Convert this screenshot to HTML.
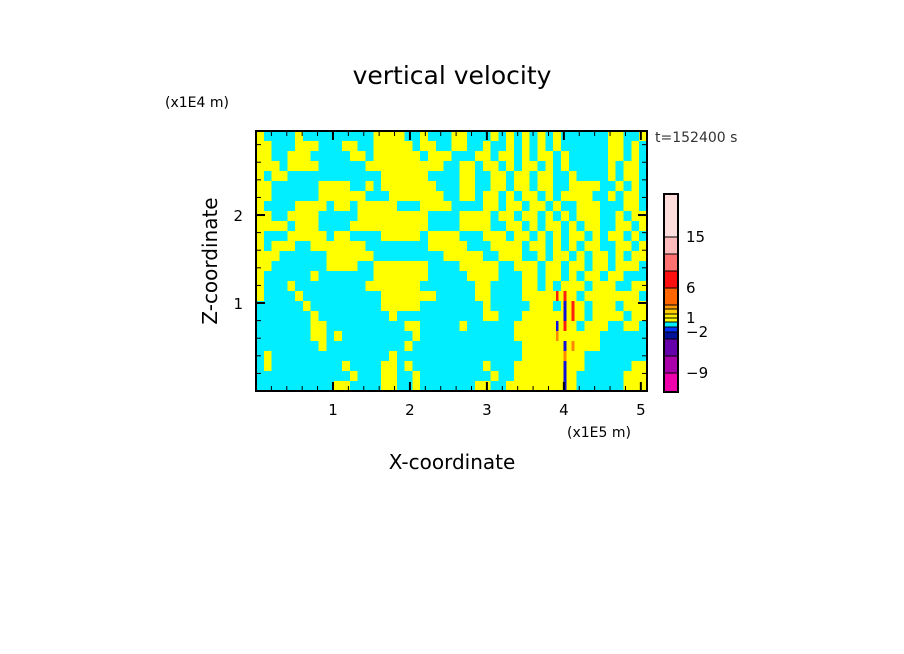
<!DOCTYPE html>
<html><head><meta charset="utf-8"><style>
body{margin:0;background:#fff;width:904px;height:654px;overflow:hidden}
svg{display:block;font-family:"DejaVu Sans","Liberation Sans",sans-serif}
</style></head><body>
<svg id="chart" width="904" height="654" viewBox="0 0 904 654">
<text x="452" y="84" font-size="25" text-anchor="middle">vertical velocity</text>
<text x="165" y="107" font-size="14">(x1E4 m)</text>
<text x="655" y="142" font-size="14" fill="#333">t=152400 s</text>
<text x="0" y="0" font-size="20" text-anchor="middle" transform="translate(217,261) rotate(-90)">Z-coordinate</text>
<text x="452" y="469" font-size="20" text-anchor="middle">X-coordinate</text>
<text x="567" y="437" font-size="14">(x1E5 m)</text>
<g id="cells" shape-rendering="crispEdges"></g>
<g id="axes"></g>
<g id="cbar"></g>
</svg>
<script>
const gridRows = [
"y....y.........yyyy..y...yy...y.y.y.y.y......yy..y",
"yy...yyy...yy..yyyyy.yy..yy..y..y.y.y.y......yy.y.",
"yy..yyy.....yy.yyyyyy.yyy...yy.yy.y.yy.y.....yy.y.",
"yyy.yyyy......yyyyyyyyyy..yy.yy.y.yy.y.y.....y.yy.",
"y.yy............yyyyyy....yy..yy.yy.yy..y....y.yy.",
"yy......yyyy..y.yyyyyyy...yy..yy.yy.yy..yyyy..y.y.",
"yy......yyyyyy...yyyyyyy..yy.yy.y.yy.y.yyyy..y.yy.",
"y....yyyy.yy.yyyyy...yyyy....yy.yy.yy.y..yyy...yy.",
"yy..yyyy.....yyyyyyyyy....yyyy.yy.yy.y.y.yyy..y.yy",
"yyyy.yyy....yyyyyyyyyy....yyyy..yy.y.yy.y.yy..yy.y",
"y...yyyyy.yy....yyyyy.yyyy...yyy.yy.y.y.yy.y.yy.y.",
"y.yyy..yyyyyyy........yyyyy...yyyy.yy.y.y.yy..yy.y",
"yyy......yyyyyy.........yyyyy..yyy..y.yy.y.yy.y.yy",
"yy.......yyyy..yyyyyyy....yyyyy..yyy.yy.yy.yy.yyy.",
"y......y.......yyyyyyy.....yyyy...yy.yy.y.yy.yy...",
"y...y.........yyyyyyy.......yy....yy.y.yyy.yyy..yy",
"y....y..........yyyyyyy.....yy....yyyyrry.yyyyyyy.",
"......y.........yyyyy........y.....yyy.bry.yyy.yyy",
".......y.........y...........yy...yyyyybry.yyyy.yy",
".......yy..........yy.....y......yyyyybry.yyy..yy.",
".......yy.y.........y............yyyyyoyyyyy......",
"........y..........y..............yyyyyboyyy......",
".y...............y................yyyyyoyy........",
".y.........y....yy.y.........y...yyyyyybyy......yy",
"............y...yy..y.........y..yyyyyyby......yyy",
"..........yy....yy..y.......yy..yyyyyyyby......yyy"
];
const xTicks = [1,2,3,4,5];
const yTicks = [1,2];
const cbarColors = ["#ee00aa","#aa00aa","#6600aa","#001199","#0033ff","#00eeff","#ffff00","#ffee00","#ffcc00","#ff9900","#ff6600","#ff1010","#ff7070","#ffbbbb","#ffdddd"];
const cbarHeights = [19,17,17,7,5,5,4,4,5,4,17,17,17,17,43];
const cbarLabels = ["-9","-2","1","6","15"];
const cbarLabelIdx = [0,3,6,10,13];

const NS="http://www.w3.org/2000/svg";
const L=256,R=647,T=131,B=391;
const xMax=5.08,yMax=2.955;
const sx=v=>L+v/xMax*(R-L);
const sy=v=>B-v/yMax*(B-T);
const colorOf={'.':'#00eeff','y':'#ffff00','r':'#ff2010','o':'#ff8800','b':'#1010dd'};
function mk(tag,attrs,parent){const e=document.createElementNS(NS,tag);for(const k in attrs)e.setAttribute(k,attrs[k]);parent.appendChild(e);return e;}
const cells=document.getElementById('cells');
const nR=gridRows.length,nC=50;
const cw=(R-L)/nC,ch=(B-T)/nR;
gridRows.forEach((row,i)=>{
  const r=row.padEnd(nC,'.').slice(0,nC);
  for(let j=0;j<nC;j++){
    const k=r[j];
    const special=(k==='r'||k==='o'||k==='b');
    const c=mk('rect',{x:L+j*cw,y:T+i*ch,width:cw+0.5,height:ch+0.5,fill:special?'#ffff00':colorOf[k]},cells);
    
    
    if(special){
      const s=mk('rect',{x:L+j*cw+cw*0.35,y:T+i*ch,width:cw*0.35,height:ch+0.5,fill:colorOf[k]},cells);
      
      
    }
  }
});
const ax=document.getElementById('axes');
const fr=mk('rect',{x:L,y:T,width:R-L,height:B-T,fill:'none',stroke:'#000','stroke-width':2},ax);


for(let v=0.2;v<xMax;v+=0.2){
  const x=sx(v);const major=Math.abs(v-Math.round(v))<0.01;const len=major?9:5;
  mk('line',{x1:x,y1:B,x2:x,y2:B-len,stroke:'#000','stroke-width':major?2:1},ax);
  mk('line',{x1:x,y1:T,x2:x,y2:T+len,stroke:'#000','stroke-width':major?2:1},ax);
}
for(let v=0.2;v<yMax;v+=0.2){
  const y=sy(v);const major=Math.abs(v-Math.round(v))<0.01;const len=major?9:5;
  mk('line',{x1:L,y1:y,x2:L+len,y2:y,stroke:'#000','stroke-width':major?2:1},ax);
  mk('line',{x1:R,y1:y,x2:R-len,y2:y,stroke:'#000','stroke-width':major?2:1},ax);
}
xTicks.forEach(v=>{
  const t=mk('text',{x:sx(v),y:415,'font-size':15,'text-anchor':'middle'},ax);t.textContent=v;
  
  
});
yTicks.forEach(v=>{
  const t=mk('text',{x:243,y:sy(v)+6,'font-size':15,'text-anchor':'end'},ax);t.textContent=v;
  
  
});
const cb=document.getElementById('cbar');
let y=392;const segY=[];
cbarColors.forEach((c,i)=>{
  const h=cbarHeights[i];y-=h;segY.push(y);
  const s=mk('rect',{x:664,y:y,width:14,height:h,fill:c,stroke:'#000','stroke-width':1},cb);
  
  
});
const cbf=mk('rect',{x:664,y:y,width:14,height:392-y,fill:'none',stroke:'#000','stroke-width':2},cb);


cbarLabels.forEach((lab,k)=>{
  const i=cbarLabelIdx[k];
  const t=mk('text',{x:686,y:segY[i]+5,'font-size':15},cb);t.textContent=lab.replace('-','\u2212');
  
  
});
</script>
</body></html>
